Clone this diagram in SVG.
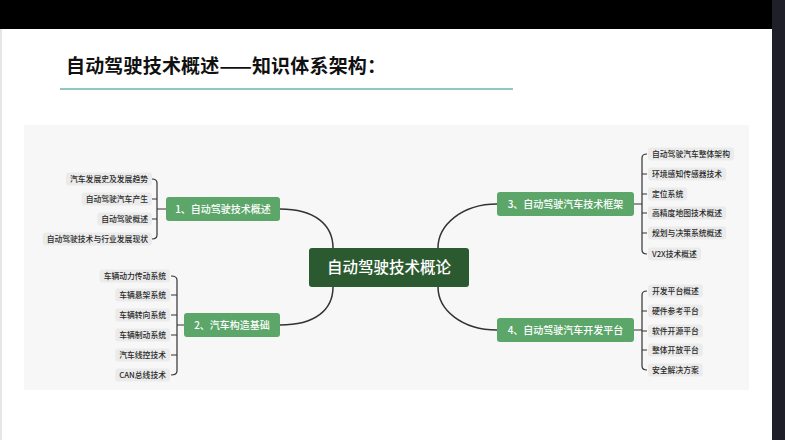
<svg xmlns="http://www.w3.org/2000/svg" width="785" height="440" viewBox="0 0 785 440">
<style>
text{font-family:"Noto Sans CJK SC","Noto Sans",sans-serif}
.title{font-size:19px;font-weight:bold;fill:#111}
.root rect{fill:#2c5a30}
.root text{font-size:15.5px;fill:#fff;text-anchor:middle;font-weight:500}
.main rect{fill:#5ca66a}
.main text{font-size:10px;fill:#fff;text-anchor:middle;font-weight:500}
.leaf rect{fill:#ebebeb}
.leaf text{font-size:7.8px;fill:#2a2a2a;font-weight:500}
.l text{text-anchor:end}
.r text{text-anchor:start}
.conn path{fill:none;stroke:#333;stroke-width:1.5}
.br path{fill:none;stroke:#333;stroke-width:1.2}
</style>
<rect x="0" y="0" width="785" height="440" fill="#ffffff"/>
<rect x="0" y="0" width="2" height="440" fill="#e6e6e6"/>
<rect x="0" y="0" width="772" height="29" fill="#000"/>
<rect x="772" y="0" width="13" height="440" fill="#1e1f28"/>
<text class="title" x="66" y="73" textLength="320" lengthAdjust="spacing">自动驾驶技术概述——知识体系架构：</text>
<line x1="60" y1="89" x2="513" y2="89" stroke="#8ec9c1" stroke-width="2"/>
<rect x="24" y="125" width="725" height="265" fill="#f7f7f7"/>

<g id="connectors">
<g class="conn">
<path d="M333,248 C333,225 315,209 280,209"/>
<path d="M333,287 C333,310 315,325 280,325"/>
<path d="M438,248 C438,225 462,204 497,204"/>
<path d="M438,287 C438,310 462,330 497,330"/>
</g>
<g class="br">
<path d="M152,179 Q157,179 157,183 V235 Q157,239 152,239 M152,199 H157 M152,219 H157 M157,209 H166"/>
<path d="M171,276 Q177,276 177,280 V371 Q177,375 171,375 M171,295 H177 M171,315 H177 M171,335 H177 M171,355 H177 M177,325 H184"/>
<path d="M647,154 Q642,154 642,158 V250 Q642,254 647,254 M642,174 H647 M642,194 H647 M642,213 H647 M642,233 H647 M634,204 H642"/>
<path d="M647,291 Q642,291 642,295 V366 Q642,370 647,370 M642,311 H647 M642,331 H647 M642,350 H647 M634,330 H642"/>
</g>
</g>

<g id="root" class="root"><rect x="309" y="248" width="160" height="39" rx="3"/><text x="389" y="273">自动驾驶技术概论</text></g>

<g id="n1" class="main"><rect x="166" y="197" width="114" height="24" rx="3"/><text x="223" y="212.5">1、自动驾驶技术概述</text></g>
<g id="n2" class="main"><rect x="184" y="313" width="96" height="24" rx="3"/><text x="232" y="328.5">2、汽车构造基础</text></g>
<g id="n3" class="main"><rect x="497" y="192" width="137" height="24" rx="3"/><text x="565.5" y="207.5">3、自动驾驶汽车技术框架</text></g>
<g id="n4" class="main"><rect x="497" y="318" width="137" height="24" rx="3"/><text x="565.5" y="333.5">4、自动驾驶汽车开发平台</text></g>

<g id="n1-1" class="leaf l"><rect x="66" y="172.5" width="86" height="13" rx="3"/><text x="148" y="181.8">汽车发展史及发展趋势</text></g>
<g id="n1-2" class="leaf l"><rect x="81.6" y="192.5" width="70.4" height="13" rx="3"/><text x="148" y="201.8">自动驾驶汽车产生</text></g>
<g id="n1-3" class="leaf l"><rect x="97.2" y="212.5" width="54.8" height="13" rx="3"/><text x="148" y="221.8">自动驾驶概述</text></g>
<g id="n1-4" class="leaf l"><rect x="42.6" y="232.5" width="109.4" height="13" rx="3"/><text x="148" y="241.8">自动驾驶技术与行业发展现状</text></g>

<g id="n2-1" class="leaf l"><rect x="99.6" y="269.5" width="70.4" height="13" rx="3"/><text x="166" y="278.8">车辆动力传动系统</text></g>
<g id="n2-2" class="leaf l"><rect x="115.2" y="288.5" width="54.8" height="13" rx="3"/><text x="166" y="297.8">车辆悬架系统</text></g>
<g id="n2-3" class="leaf l"><rect x="115.2" y="308.5" width="54.8" height="13" rx="3"/><text x="166" y="317.8">车辆转向系统</text></g>
<g id="n2-4" class="leaf l"><rect x="115.2" y="328.5" width="54.8" height="13" rx="3"/><text x="166" y="337.8">车辆制动系统</text></g>
<g id="n2-5" class="leaf l"><rect x="115.2" y="348.5" width="54.8" height="13" rx="3"/><text x="166" y="357.8">汽车线控技术</text></g>
<g id="n2-6" class="leaf l"><rect x="115.2" y="368.5" width="54.8" height="13" rx="3"/><text x="166" y="377.8">CAN总线技术</text></g>

<g id="n3-1" class="leaf r"><rect x="648" y="147.5" width="86" height="13" rx="3"/><text x="652" y="156.8">自动驾驶汽车整体架构</text></g>
<g id="n3-2" class="leaf r"><rect x="648" y="167.5" width="78.2" height="13" rx="3"/><text x="652" y="176.8">环境感知传感器技术</text></g>
<g id="n3-3" class="leaf r"><rect x="648" y="187.5" width="39.2" height="13" rx="3"/><text x="652" y="196.8">定位系统</text></g>
<g id="n3-4" class="leaf r"><rect x="648" y="206.5" width="78.2" height="13" rx="3"/><text x="652" y="215.8">高精度地图技术概述</text></g>
<g id="n3-5" class="leaf r"><rect x="648" y="226.5" width="78.2" height="13" rx="3"/><text x="652" y="235.8">规划与决策系统概述</text></g>
<g id="n3-6" class="leaf r"><rect x="648" y="247.5" width="53" height="13" rx="3"/><text x="652" y="256.8">V2X技术概述</text></g>

<g id="n4-1" class="leaf r"><rect x="648" y="284.5" width="54.8" height="13" rx="3"/><text x="652" y="293.8">开发平台概述</text></g>
<g id="n4-2" class="leaf r"><rect x="648" y="304.5" width="54.8" height="13" rx="3"/><text x="652" y="313.8">硬件参考平台</text></g>
<g id="n4-3" class="leaf r"><rect x="648" y="324.5" width="54.8" height="13" rx="3"/><text x="652" y="333.8">软件开源平台</text></g>
<g id="n4-4" class="leaf r"><rect x="648" y="343.5" width="54.8" height="13" rx="3"/><text x="652" y="352.8">整体开放平台</text></g>
<g id="n4-5" class="leaf r"><rect x="648" y="363.5" width="54.8" height="13" rx="3"/><text x="652" y="372.8">安全解决方案</text></g>
</svg>
